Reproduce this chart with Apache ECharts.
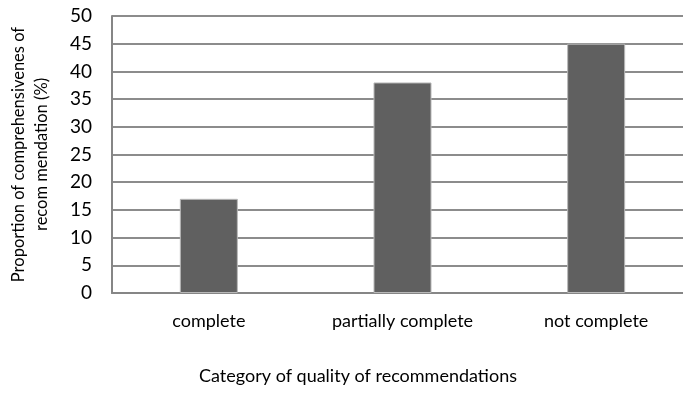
<!DOCTYPE html>
<html>
<head>
<meta charset="utf-8">
<script src="https://cdn.jsdelivr.net/npm/echarts@6/dist/echarts.min.js"></script>
<style>html,body{margin:0;padding:0;background:#fff}#c{width:683px;height:411px}</style>
</head>
<body>
<div id="c"></div>
<script>
const categories = ['complete', 'partially complete', 'not complete'];
const values = [17, 38, 45];
const yTicks = [0, 50, 5];
const FONT = 'Lato';
const chart = echarts.init(document.getElementById('c'), null, {renderer: 'canvas'});
chart.setOption({
  animation: false,
  backgroundColor: '#fff',
  textStyle: {fontFamily: FONT},
  grid: {left: 112, top: 16, width: 581, height: 277, outerBoundsMode: 'none', containLabel: false},
  graphic: [{
    type: 'text', left: 199, top: 367,
    style: {text: 'Category of quality of recommendations', font: '18px ' + FONT, fill: '#000'}
  }],
  xAxis: {
    type: 'category',
    data: categories,
    axisLine: {lineStyle: {color: '#868686', width: 2}},
    axisTick: {show: false},
    axisLabel: {color: '#000', fontSize: 18, fontFamily: FONT, margin: 19}
  },
  yAxis: {
    type: 'value',
    min: yTicks[0], max: yTicks[1], interval: yTicks[2],
    name: 'Proportion of comprehensivenes of\nrecom mendation (%)',
    nameLocation: 'middle',
    nameGap: 59,
    nameTextStyle: {color: '#000', fontSize: 16.5, fontFamily: FONT, lineHeight: 23},
    axisLine: {show: true, lineStyle: {color: '#868686', width: 2}},
    axisTick: {show: false},
    axisLabel: {color: '#000', fontSize: 19, fontFamily: FONT, margin: 20},
    splitLine: {lineStyle: {color: '#8c8c8c', width: 2}}
  },
  series: [{
    type: 'bar',
    data: values,
    barWidth: 58,
    itemStyle: {color: '#606060', borderColor: '#b8b8b8', borderWidth: 1}
  }]
});
</script>
</body>
</html>
